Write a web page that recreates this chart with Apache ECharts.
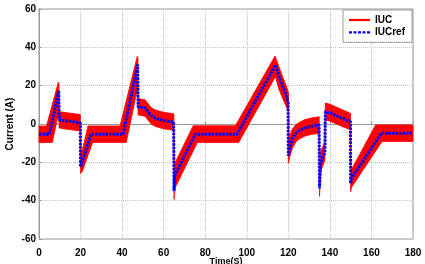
<!DOCTYPE html>
<html>
<head>
<meta charset="utf-8">
<script src="https://cdn.jsdelivr.net/npm/echarts@6/dist/echarts.min.js"></script>
<style>
html,body{margin:0;padding:0;background:#fff;}
#c{width:425px;height:264px;}
</style>
</head>
<body>
<div id="c"></div>
<script>
// IUCref: time (s) and current (A)
const refTime = [0, 5.0, 9.5, 9.7, 12, 19.9, 20.0, 25.0, 40.5, 47.5, 47.7, 51.0, 54.0, 56.0, 60.0, 64.8, 65.0, 65.3, 75.2, 95.3,
  113.8, 116.1, 118.6, 119.9, 120.0, 121.0, 122.0, 123.5, 125.0, 128.0, 131.0, 134.8, 135.0, 135.6, 136.5, 137.6, 137.8,
  140.0, 149.9, 150.0, 150.3, 164.8, 180];
const refCurrent = [-5.4, -5.4, 17.5, 2.2, 1.8, 0.6, -22.5, -5.3, -5.3, 31.0, 9.0, 8.4, 4.3, 3.0, 1.8, 1.0, -35.0, -27.0, -5.3, -5.3,
  30.8, 22.9, 16.0, 11.5, -16.5, -11.0, -7.5, -5.0, -3.6, -2.0, -1.2, -0.5, -33.5, -20.0, -17.5, -15.0, 6.5,
  5.8, 1.2, -31.0, -28.5, -4.8, -4.8];

// IUC (ripple band): upper envelope vertices
const iucUpperTime = [0, 3.6, 9.3, 9.6, 9.75, 12, 19.9, 20.1, 23.6, 39.0, 47.3, 47.6, 47.75, 51, 54, 56, 60, 64.9, 65.1, 74.2,
  94.5, 113.6, 116.8, 119.3, 120.05, 120.15, 121, 122, 123.5, 125, 128, 131, 134.85, 135.05, 135.6, 136.5, 137.6, 137.8,
  140, 149.9, 150.1, 162.0, 180];
const iucUpperCurrent = [-1.1, -1.1, 21.8, 21.5, 6.5, 6.1, 4.9, -17, -1.0, -1.0, 35.3, 35.0, 13.3, 12.7, 8.6, 7.3, 6.1, 5.3, -21.1, -0.9,
  -0.9, 35.5, 26, 19, 16.5, -9, -5, -2.5, -0.5, 0.7, 2.3, 3.1, 3.8, -29, -14, -12, -10, 11,
  10.3, 5.6, -24.3, -0.5, -0.5];
// IUC (ripple band): lower envelope vertices
const iucLowerTime = [0, 6.4, 9.45, 9.7, 12, 19.9, 20.0, 21.0, 25.8, 42.0, 47.45, 47.7, 51, 54, 56, 60, 64.8, 65.0, 65.4, 76.2,
  96.1, 113.8, 115.5, 118, 119.9, 120.0, 121, 122, 123.5, 125, 128, 131, 134.8, 135.0, 135.6, 136.5, 137.6, 137.75,
  140, 149.9, 150.0, 150.4, 165.1, 180];
const iucLowerCurrent = [-9.7, -9.7, 5.9, -2.1, -2.5, -3.7, -25.8, -24.4, -9.6, -9.6, 18.7, 4.7, 4.1, 0, -1.3, -2.5, -3.3, -39.3, -33.5, -9.7,
  -9.7, 24.7, 18, 11.5, 7.0, -20.5, -16, -12.5, -9.6, -8, -6.3, -5.5, -4.8, -37.8, -24.5, -22, -19, 2.2,
  1.5, -3.1, -35.3, -33.1, -9.1, -9.1];

const xTicks = [0, 20, 40, 60, 80, 100, 120, 140, 160, 180];
const yTicks = [-60, -40, -20, 0, 20, 40, 60];

const chart = echarts.init(document.getElementById('c'), null, {renderer: 'canvas'});
const FONT = '"Liberation Sans", Arial, sans-serif';

// outline of the band: upper edge forward, lower edge backward
const bandOutline = [];
iucUpperTime.forEach((t, i) => bandOutline.push([t, iucUpperCurrent[i]]));
for (let i = iucLowerTime.length - 1; i >= 0; i--) bandOutline.push([iucLowerTime[i], iucLowerCurrent[i]]);
const refData = refTime.map((t, i) => [t, refCurrent[i]]);

chart.setOption({
  animation: false,
  backgroundColor: '#fff',
  grid: {left: 39, right: 12, top: 9, bottom: 25, containLabel: false, outerBoundsMode: 'none',
    show: true, borderColor: '#9a9a9a', borderWidth: 1, backgroundColor: 'transparent'},
  legend: {
    left: 343, top: 10, orient: 'vertical',
    padding: [5, 7, 5, 6], itemGap: 2.3, itemWidth: 21, itemHeight: 10,
    backgroundColor: '#fff', borderColor: '#9a9a9a', borderWidth: 1, borderRadius: 0,
    textStyle: {fontFamily: FONT, fontWeight: 'bold', fontSize: 10, color: '#000', lineHeight: 10},
    data: [
      {name: 'IUC', icon: 'path://M0,0L21,0L21,2.2L0,2.2Z', itemStyle: {color: '#ff0000'}},
      {name: 'IUCref', icon: 'path://M0,0h3v2.2h-3zM4.5,0h3v2.2h-3zM9,0h3v2.2h-3zM13.5,0h3v2.2h-3zM18,0h3v2.2h-3z', itemStyle: {color: '#0000ff'}}
    ]
  },
  xAxis: {
    type: 'value', min: xTicks[0], max: xTicks[xTicks.length - 1], interval: 20,
    name: 'Time(S)', nameLocation: 'middle', nameGap: 18, nameMoveOverlap: false,
    nameTextStyle: {fontFamily: FONT, fontWeight: 'bold', fontSize: 9, color: '#000', verticalAlign: 'top', lineHeight: 9},
    axisLine: {show: true, lineStyle: {color: '#9a9a9a', width: 1}},
    axisTick: {show: true, inside: true, length: 3, lineStyle: {color: '#9a9a9a'}},
    axisLabel: {fontFamily: FONT, fontWeight: 'bold', fontSize: 10, color: '#000', margin: 9, lineHeight: 10},
    splitLine: {show: true, lineStyle: {color: '#c4c4c4', type: [1, 1], width: 1}}
  },
  yAxis: {
    type: 'value', min: yTicks[0], max: yTicks[yTicks.length - 1], interval: 20,
    name: 'Current (A)', nameLocation: 'middle', nameGap: 24, nameRotate: 90, nameMoveOverlap: false,
    nameTextStyle: {fontFamily: FONT, fontWeight: 'bold', fontSize: 10, color: '#000'},
    axisLine: {show: true, lineStyle: {color: '#9a9a9a', width: 1}},
    axisTick: {show: true, inside: true, length: 3, lineStyle: {color: '#9a9a9a'}},
    axisLabel: {fontFamily: FONT, fontWeight: 'bold', fontSize: 10, color: '#000', margin: 3},
    splitLine: {show: true, lineStyle: {color: '#c4c4c4', type: [1, 1], width: 1}}
  },
  series: [
    {
      name: 'IUC', type: 'custom', z: 2,
      itemStyle: {color: '#ff0000'},
      encode: {x: 0, y: 1},
      data: bandOutline,
      renderItem: function (params, api) {
        if (params.dataIndex !== 0) return null;
        const pts = bandOutline.map(p => api.coord(p));
        return {type: 'polygon', shape: {points: pts}, style: {fill: '#ff0000', stroke: '#ff0000', lineWidth: 0.8, lineJoin: 'miter'}};
      }
    },
    {
      name: 'IUCref', type: 'line', z: 3, symbol: 'none',
      data: refData,
      lineStyle: {color: '#0000ff', width: 3, type: [2.5, 1]},
      itemStyle: {color: '#0000ff'}
    }
  ]
});
</script>
</body>
</html>
